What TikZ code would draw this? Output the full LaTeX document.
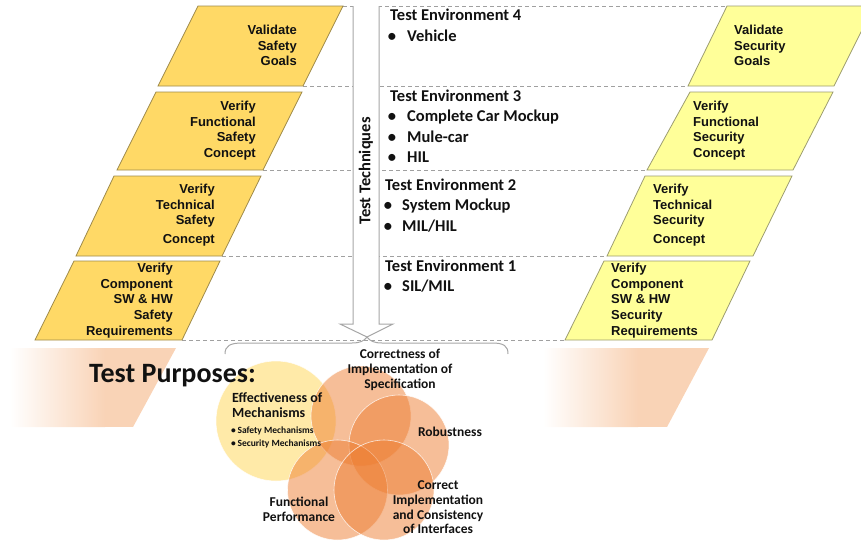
\documentclass[tikz,border=0pt]{standalone}
\usepackage{fontspec}
\setmainfont{Carlito}
\newfontfamily\arialfont{Liberation Sans}
\definecolor{gold}{HTML}{FFD966}
\definecolor{goldline}{HTML}{9E8A4A}
\definecolor{lyel}{HTML}{FFFF99}
\definecolor{lyelline}{HTML}{9C9C70}
\definecolor{dashgray}{HTML}{A0A0A0}
\definecolor{arrowgray}{HTML}{A6A6A6}
\definecolor{peach}{HTML}{F9D3B6}
\definecolor{orng}{HTML}{ED7D31}
\definecolor{yell}{HTML}{FFC000}
\definecolor{txt}{HTML}{111111}
\tikzset{
  safebox/.style={fill=gold, draw=goldline, line width=0.8pt},
  secbox/.style={fill=lyel, draw=lyelline, line width=0.8pt},
  boxtxt/.style={font=\arialfont\bfseries\fontsize{13}{15.6}\selectfont, inner sep=0pt, text=txt},
  sepline/.style={draw=dashgray, dash pattern=on 4pt off 3pt, line width=0.9pt},
  envtxt/.style={font=\bfseries\fontsize{16.5}{19}\selectfont, anchor=base west, inner sep=0pt, text=txt},
  bul/.style={font=\bfseries\fontsize{16.5}{19}\selectfont, anchor=base, inner sep=0pt, text=txt},
  vennO/.style={fill=orng, fill opacity=0.5, draw=white, draw opacity=0.8, line width=0.6pt},
  vennY/.style={fill=yell, fill opacity=0.34, draw=white, draw opacity=0.8, line width=0.6pt},
  vlabel/.style={font=\bfseries\fontsize{13.5}{14.7}\selectfont, align=center, inner sep=0pt, text=txt},
}
\begin{document}
\begin{tikzpicture}[x=1pt,y=-1pt]
\useasboundingbox (0,0) rectangle (861,544);
% dashed separators
\draw[sepline] (343,6) -- (727,6);
\draw[sepline] (303,86) -- (688,86);
\draw[sepline] (263,170) -- (647,170);
\draw[sepline] (222,256) -- (607,256);
\draw[sepline] (182,340) -- (565,340);
% safety boxes
\draw[safebox] (198,6) -- (343,6) -- (303,86) -- (158,86) -- cycle;
\draw[safebox] (156,92) -- (302,92) -- (263,170) -- (117,170) -- cycle;
\draw[safebox] (114,176) -- (261,176) -- (222,256) -- (76,256) -- cycle;
\draw[safebox] (74,261) -- (220,261) -- (182,340) -- (35,340) -- cycle;
% security boxes
\draw[secbox] (727,6) -- (874,6) -- (834,86) -- (688,86) -- cycle;
\draw[secbox] (690,92) -- (833,92) -- (793,170) -- (647,170) -- cycle;
\draw[secbox] (645,176) -- (792,176) -- (753,256) -- (607,256) -- cycle;
\draw[secbox] (604,261) -- (750,261) -- (712,340) -- (565,340) -- cycle;
% box texts
\node[boxtxt, anchor=east, align=right] (s1) at (297,45.5) {Validate\\Safety\\Goals};
\node[boxtxt, anchor=east, align=right] (s2) at (256,130.5) {Verify\\Functional\\Safety\\Concept};
\node[boxtxt, anchor=east, align=right] (s3) at (215,215) {Verify\\Technical\\Safety\\[3pt]Concept};
\node[boxtxt, anchor=east, align=right] (s4) at (173,300.5) {Verify\\Component\\SW \& HW\\Safety\\Requirements};
\node[boxtxt, anchor=west, align=left] (r1) at (734,45.5) {Validate\\Security\\Goals};
\node[boxtxt, anchor=west, align=left] (r2) at (693,130.5) {Verify\\Functional\\Security\\Concept};
\node[boxtxt, anchor=west, align=left] (r3) at (653,215) {Verify\\Technical\\Security\\[3pt]Concept};
\node[boxtxt, anchor=west, align=left] (r4) at (611,300.5) {Verify\\Component\\SW \& HW\\Security\\Requirements};
% test techniques arrow
\draw[fill=white, draw=arrowgray, line width=1pt, line join=miter]
  (353,6) -- (353,324) -- (340,324) -- (367,337) -- (393,324) -- (379,324) -- (379,6);
\node[font=\bfseries\fontsize{16.5}{19}\selectfont, rotate=90, inner sep=0pt, text=txt] (tt) at (366,171) {Test Techniques};
% brace
\draw[draw=arrowgray, line width=1pt]
  (225,354) .. controls (225,346) and (230,343) .. (242,343) -- (352,343)
  .. controls (360,343) and (364,341) .. (367,337)
  .. controls (370,341) and (374,343) .. (382,343) -- (492,343)
  .. controls (504,343) and (508,346) .. (508,354);
% environments
\node[envtxt] (e4) at (390,20.3) {Test Environment 4};
\node[bul] (e4b1) at (392,41.3) {•};
\node[envtxt] (e4i1) at (407,41.3) {Vehicle};
\node[envtxt] (e3) at (390,101.3) {Test Environment 3};
\node[bul] (e3b1) at (392,121.3) {•};
\node[envtxt] (e3i1) at (407,121.3) {Complete Car Mockup};
\node[bul] (e3b2) at (392,142.3) {•};
\node[envtxt] (e3i2) at (407,142.3) {Mule-car};
\node[bul] (e3b3) at (392,162.3) {•};
\node[envtxt] (e3i3) at (407,162.3) {HIL};
\node[envtxt] (e2) at (385,190.3) {Test Environment 2};
\node[bul] (e2b1) at (388,210.3) {•};
\node[envtxt] (e2i1) at (402,210.3) {System Mockup};
\node[bul] (e2b2) at (388,231.3) {•};
\node[envtxt] (e2i2) at (402,231.3) {MIL/HIL};
\node[envtxt] (e1) at (385,271.3) {Test Environment 1};
\node[bul] (e1b1) at (388,291.3) {•};
\node[envtxt] (e1i1) at (402,291.3) {SIL/MIL};
% gradient trapezoids
\begin{scope}
  \clip (10,348) -- (176,348) -- (133,427) -- (10,427) -- cycle;
  \shade[left color=white, right color=peach] (10,348) rectangle (105,427);
  \fill[peach] (104.5,348) rectangle (180,427);
\end{scope}
\begin{scope}
  \clip (543,348) -- (709,348) -- (667,427) -- (543,427) -- cycle;
  \shade[left color=white, right color=peach] (543,348) rectangle (638,427);
  \fill[peach] (637.5,348) rectangle (712,427);
\end{scope}
% venn
\path[vennY] (276,421) circle[radius=60];
\path[vennO] (361,416) circle[radius=50];
\path[vennO] (399,445) circle[radius=50];
\path[vennO] (337.5,490) circle[radius=50];
\path[vennO] (384,490) circle[radius=50];
\node[font=\bfseries\fontsize{28}{32}\selectfont, anchor=base west, inner sep=0pt, text=txt] (tp) at (89,382) {Test Purposes:};
\node[vlabel] (v1) at (400,370) {Correctness of\\Implementation of\\Specification};
\node[vlabel] (v2) at (450,432) {Robustness};
\node[vlabel] (v3) at (438,507.5) {Correct\\Implementation\\and Consistency\\of Interfaces};
\node[vlabel] (v4) at (299,509) {Functional\\Performance};
\node[font=\bfseries\fontsize{14}{15.2}\selectfont, align=left, anchor=west, inner sep=0pt, text=txt] (v5) at (232,405.5) {Effectiveness of\\Mechanisms};
\node[font=\bfseries\fontsize{9.5}{13}\selectfont, align=left, anchor=west, inner sep=0pt, text=txt] (v6) at (231,437.5) {•\,Safety Mechanisms\\•\,Security Mechanisms};
\end{tikzpicture}
\end{document}
